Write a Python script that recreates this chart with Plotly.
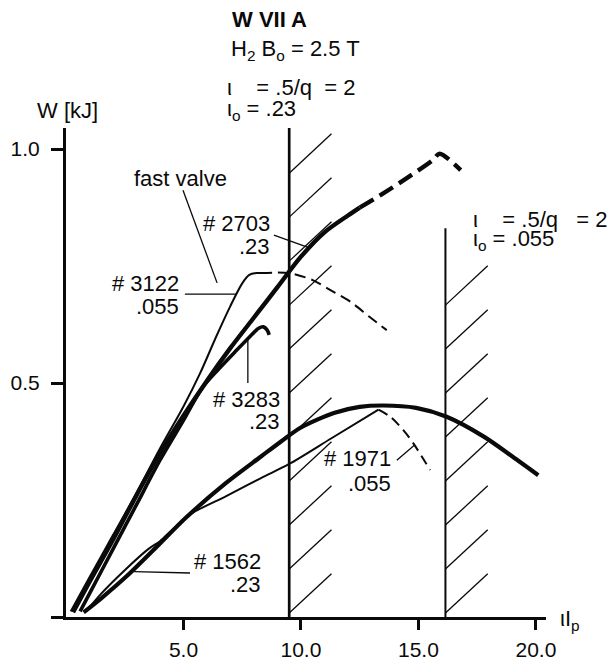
import plotly.graph_objects as go

# W VII A, H2 plasmas at B0 = 2.5 T: stored energy W [kJ] against iota * Ip

# shot 2703 (iota0 = .23): measured part and dashed continuation
s2703_x = [0.3, 1.0, 2.0, 3.0, 4.0, 5.0, 6.0, 7.0, 8.0, 9.0, 10.0, 11.0, 12.0, 12.5]
s2703_y = [0.01, 0.075, 0.165, 0.26, 0.35, 0.43, 0.505, 0.575, 0.64, 0.705, 0.77, 0.822, 0.858, 0.875]
s2703_ext_x = [12.5, 13.4, 14.6, 15.6, 15.9, 16.8]
s2703_ext_y = [0.875, 0.902, 0.941, 0.976, 0.99, 0.955]

# shot 3122 (iota0 = .055, fast valve)
s3122_x = [0.2, 1.0, 2.0, 3.0, 4.0, 5.0, 5.7, 6.4, 7.0, 7.5, 7.8, 8.1, 8.3]
s3122_y = [0.012, 0.085, 0.175, 0.265, 0.36, 0.45, 0.52, 0.6, 0.665, 0.713, 0.731, 0.735, 0.735]
s3122_ext_x = [8.3, 9.0, 9.6, 10.5, 11.2, 12.1, 12.9, 13.65]
s3122_ext_y = [0.735, 0.736, 0.734, 0.72, 0.70, 0.674, 0.642, 0.613]

# shot 3283 (iota0 = .23)
s3283_x = [0.6, 1.0, 2.0, 3.0, 4.0, 5.0, 5.8, 6.5, 7.2, 7.8, 8.2, 8.4, 8.55, 8.65]
s3283_y = [0.012, 0.05, 0.145, 0.24, 0.335, 0.42, 0.49, 0.53, 0.567, 0.598, 0.617, 0.62, 0.614, 0.603]

# shot 1562 (iota0 = .23)
s1562_x = [0.75, 1.5, 2.6, 4.0, 5.1, 6.8, 8.3, 9.5, 10.0, 11.4, 12.5, 13.5, 14.9, 16.2, 17.8, 19.0, 20.1]
s1562_y = [0.01, 0.04, 0.088, 0.157, 0.212, 0.286, 0.343, 0.388, 0.405, 0.436, 0.449, 0.452, 0.447, 0.428, 0.385, 0.343, 0.303]

# shot 1971 (iota0 = .055): measured part and dashed continuation
s1971_x = [0.85, 1.5, 2.5, 3.5, 4.0, 4.5, 5.3, 6.8, 8.3, 9.5, 11.3, 13.3]
s1971_y = [0.012, 0.05, 0.1, 0.145, 0.162, 0.185, 0.22, 0.258, 0.297, 0.327, 0.382, 0.443]
s1971_ext_x = [13.3, 13.8, 14.35, 14.8, 15.5]
s1971_ext_y = [0.443, 0.428, 0.40, 0.37, 0.314]

# q = 2 limits (iota = .5) for iota0 = .23 and iota0 = .055
q2_limit_x = [9.5, 16.15]
q2_limit_top = [1.045, 0.831]

x_ticks = [5, 10, 15, 20]
x_tick_text = ["5.0", "10.0", "15.0", "20.0"]
y_ticks = [0, 0.5, 1.0]
y_tick_text = ["", "0.5", "1.0"]

FONT = "Liberation Sans, Arial, Helvetica, sans-serif"
INK = "#0a0a0a"
W, H = 615, 658
L, R, T, B = 66, 69, 128, 41
X_RANGE = [0, 20.43]
Y_RANGE = [0, 1.045]
TXT = 22


def paper(xp, yp):
    """Pixel position in the page -> paper coordinates."""
    return (xp - L) / (W - L - R), (H - B - yp) / (H - T - B)


fig = go.Figure()


def curve(x, y, width, dash="solid"):
    fig.add_trace(go.Scatter(
        x=x, y=y, mode="lines",
        line=dict(color=INK, width=width, dash=dash, shape="spline", smoothing=0.8),
        hoverinfo="skip", showlegend=False,
    ))


# hatched q = 2 boundaries
hx, hy = [], []
for xv, top in zip(q2_limit_x, q2_limit_top):
    y0 = 0.0085
    while y0 + 0.084 <= top:
        hx += [xv, xv + 1.8, None]
        hy += [y0, y0 + 0.084, None]
        y0 += 0.094
fig.add_trace(go.Scatter(x=hx, y=hy, mode="lines", line=dict(color=INK, width=1.3),
                         hoverinfo="skip", showlegend=False))
for xv, top, lw in zip(q2_limit_x, q2_limit_top, [2.7, 2.0]):
    fig.add_trace(go.Scatter(x=[xv, xv], y=[0, top], mode="lines",
                             line=dict(color=INK, width=lw),
                             hoverinfo="skip", showlegend=False))

curve(s1562_x, s1562_y, 4.2)
curve(s1971_x, s1971_y, 2.0)
curve(s1971_ext_x, s1971_ext_y, 2.0, "10px,6px")
curve(s3283_x, s3283_y, 3.6)
curve(s3122_x, s3122_y, 2.0)
curve(s3122_ext_x, s3122_ext_y, 2.0, "11px,6px")
curve(s2703_x, s2703_y, 4.4)
curve(s2703_ext_x, s2703_ext_y, 4.4, "16px,7px")

# leader lines from the shot labels to their curves
leaders = [
    ((4.98, 0.912), (6.43, 0.714)),
    ((8.85, 0.816), (10.3, 0.79)),
    ((5.06, 0.69), (7.23, 0.69)),
    ((7.74, 0.597), (7.74, 0.5)),
    ((2.9, 0.097), (5.28, 0.094)),
    ((14.08, 0.335), (14.85, 0.368)),
]
for (xa, ya), (xb, yb) in leaders:
    fig.add_shape(type="line", x0=xa, y0=ya, x1=xb, y1=yb, xref="x", yref="y",
                  line=dict(color=INK, width=1.3))


def text(s, xp, yp, anchor="left", size=TXT, bold=False):
    px_, py_ = paper(xp, yp)
    fig.add_annotation(
        text=f"<b>{s}</b>" if bold else s, x=px_, y=py_, xref="paper", yref="paper",
        xanchor=anchor, yanchor="middle", showarrow=False,
        font=dict(family=FONT, size=size, color=INK),
    )


NB = "\u00a0"
# header
text("W VII A", 230, 20, bold=True)
text("H<sub>2</sub> B<sub>o</sub> = 2.5 T", 229, 50)
text(f"ι{NB}{NB}{NB} = .5/q{NB} = 2", 225, 88)
text("ι<sub>o</sub> = .23", 225, 110)
text(f"ι{NB}{NB}{NB} = .5/q{NB}{NB} = 2", 471, 219)
text("ι<sub>o</sub> = .055", 471, 240)

# axis titles
text("W [kJ]", 67, 110, anchor="center")
text("ιI<sub>p</sub>", 558, 620)

# shot labels
text("fast valve", 180, 178, anchor="center")
for s, xp, yp in [
    ("# 2703", 272, 223), (".23", 272, 246),
    ("# 3122", 181, 283), (".055", 181, 306),
    ("# 3283", 282, 399), (".23", 282, 421),
    ("# 1562", 263, 561), (".23", 263, 584),
    ("# 1971", 393, 459), (".055", 393, 483),
]:
    text(s, xp, yp, anchor="right")

fig.update_layout(
    width=W, height=H, autosize=False,
    margin=dict(l=L, r=R, t=T, b=B, pad=0, autoexpand=False),
    paper_bgcolor="white", plot_bgcolor="white",
    font=dict(family=FONT, size=21, color=INK),
    showlegend=False,
    xaxis=dict(range=X_RANGE, showgrid=False, zeroline=False, showline=True,
               linecolor=INK, linewidth=3, ticks="outside", ticklen=10, tickwidth=2.5,
               tickcolor=INK, tickvals=x_ticks, ticktext=x_tick_text, ticklabelstandoff=2,
               automargin=False,
               tickfont=dict(family=FONT, size=21, color=INK), fixedrange=True),
    yaxis=dict(range=Y_RANGE, showgrid=False, zeroline=False, showline=True,
               linecolor=INK, linewidth=3, ticks="outside", ticklen=12, tickwidth=3,
               tickcolor=INK, tickvals=y_ticks, ticktext=y_tick_text, ticklabelstandoff=7,
               automargin=False,
               tickfont=dict(family=FONT, size=21, color=INK), fixedrange=True),
)

fig.write_html("out.html")
